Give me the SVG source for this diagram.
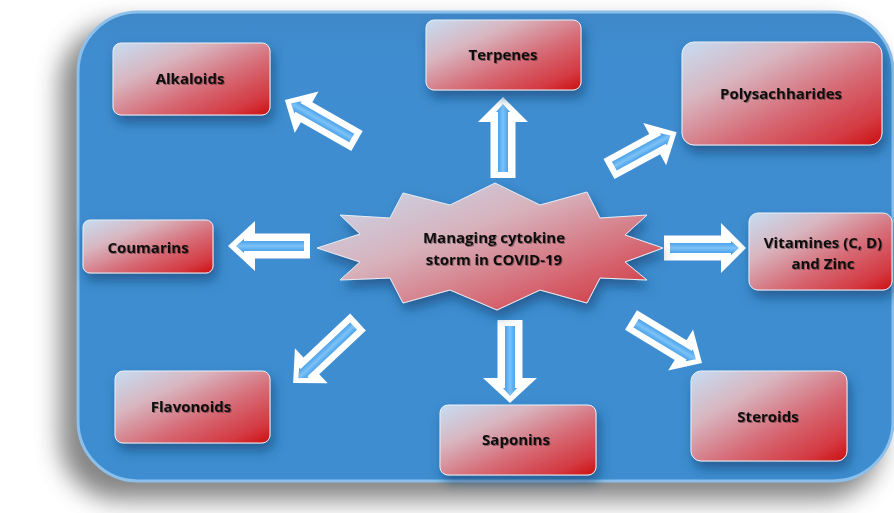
<svg xmlns="http://www.w3.org/2000/svg" width="894" height="513" viewBox="0 0 894 513">
<defs>
<linearGradient id="boxGrad" x1="0" y1="0" x2="1" y2="1">
<stop offset="0" stop-color="#c6ddf3"/>
<stop offset="0.3" stop-color="#d8b6c0"/>
<stop offset="0.6" stop-color="#d66b76"/>
<stop offset="0.85" stop-color="#d43a42"/>
<stop offset="1" stop-color="#cc1010"/>
</linearGradient>
<linearGradient id="starGrad" x1="0" y1="0" x2="1" y2="1">
<stop offset="0" stop-color="#c6dcf2"/>
<stop offset="0.4" stop-color="#d7b2bc"/>
<stop offset="0.75" stop-color="#d5606b"/>
<stop offset="1" stop-color="#cc2a30"/>
</linearGradient>
<linearGradient id="arrGrad" x1="0" y1="0" x2="0" y2="1">
<stop offset="0" stop-color="#3a96e6"/>
<stop offset="0.5" stop-color="#7cc2f6"/>
<stop offset="1" stop-color="#3a96e6"/>
</linearGradient>
<linearGradient id="panelGrad" x1="0" y1="0" x2="0" y2="1">
<stop offset="0" stop-color="#3f88c8"/>
<stop offset="0.1" stop-color="#3f8dd0"/>
<stop offset="1" stop-color="#3d8dd0"/>
</linearGradient>
<filter id="panelShadow" x="-10%" y="-10%" width="120%" height="125%">
<feGaussianBlur stdDeviation="12"/>
</filter>
<filter id="boxShadow" x="-20%" y="-30%" width="140%" height="170%">
<feDropShadow dx="3" dy="7" stdDeviation="6" flood-color="#123a6a" flood-opacity="0.6"/>
</filter>
<filter id="txtShadow" x="-5%" y="-20%" width="110%" height="150%">
<feDropShadow dx="1" dy="1" stdDeviation="0.6" flood-color="#000" flood-opacity="0.35"/>
</filter>
<style>
.box{fill:url(#boxGrad);stroke:#e8eef6;stroke-width:1;filter:url(#boxShadow);}
.lbl{font-family:"Open Sans","Liberation Sans",sans-serif;font-weight:700;font-size:15px;fill:#111;text-anchor:middle;filter:url(#txtShadow);}
.arrOut{fill:#ffffff;}
.arrIn{fill:url(#arrGrad);}
</style>
</defs>
<rect width="894" height="513" fill="#ffffff"/>
<!-- panel shadow -->
<rect x="60" y="24" width="822" height="476" rx="60" fill="#666666" opacity="0.8" filter="url(#panelShadow)"/>
<!-- panel -->
<rect x="78" y="12" width="815" height="469" rx="60" fill="url(#panelGrad)" stroke="#8cc0ea" stroke-width="3"/>

<g id="connectors">
<!-- up to Terpenes -->
<g transform="translate(503,178) rotate(-90)">
<polygon class="arrOut" points="0,-12.5 56,-12.5 56,-25 81,0 56,25 56,12.5 0,12.5"/>
<polygon class="arrIn" points="6,-5 66,-5 66,-7 74,0 66,7 66,5 6,5"/>
</g>
<!-- down to Saponins -->
<g transform="translate(510,320) rotate(90)">
<polygon class="arrOut" points="0,-12.5 58,-12.5 58,-27 83,0 58,27 58,12.5 0,12.5"/>
<polygon class="arrIn" points="6,-5 68,-5 68,-7 76,0 68,7 68,5 6,5"/>
</g>
<!-- left to Coumarins -->
<g transform="translate(310,246) rotate(180)">
<polygon class="arrOut" points="0,-12.5 55,-12.5 55,-25 82,0 55,25 55,12.5 0,12.5"/>
<polygon class="arrIn" points="6,-5 66,-5 66,-7 74,0 66,7 66,5 6,5"/>
</g>
<!-- right to Vitamines -->
<g transform="translate(664,248)">
<polygon class="arrOut" points="0,-12.5 57,-12.5 57,-25 82,0 57,25 57,12.5 0,12.5"/>
<polygon class="arrIn" points="6,-5 67,-5 67,-7 75,0 67,7 67,5 6,5"/>
</g>
<!-- up-left to Alkaloids -->
<g transform="translate(357,141) rotate(-150.3)">
<polygon class="arrOut" points="0,-11.5 58,-11.5 58,-24 83,0 58,24 58,11.5 0,11.5"/>
<polygon class="arrIn" points="6,-5 68,-5 68,-7 76,0 68,7 68,5 6,5"/>
</g>
<!-- up-right to Polysachharides -->
<g transform="translate(609,169) rotate(-28.5)">
<polygon class="arrOut" points="0,-11.5 52,-11.5 52,-24 77,0 52,24 52,11.5 0,11.5"/>
<polygon class="arrIn" points="6,-5 62,-5 62,-7 70,0 62,7 62,5 6,5"/>
</g>
<!-- down-left to Flavonoids -->
<g transform="translate(358,322) rotate(136.8)">
<polygon class="arrOut" points="0,-11.5 64,-11.5 64,-24 89,0 64,24 64,11.5 0,11.5"/>
<polygon class="arrIn" points="6,-5 74,-5 74,-7 82,0 74,7 74,5 6,5"/>
</g>
<!-- down-right to Steroids -->
<g transform="translate(631,320) rotate(31.2)">
<polygon class="arrOut" points="0,-11.5 58,-11.5 58,-24 83,0 58,24 58,11.5 0,11.5"/>
<polygon class="arrIn" points="6,-5 68,-5 68,-7 76,0 68,7 68,5 6,5"/>
</g>
</g>

<g id="center">
<polygon points="663,248 625,262 647,280 600,278 587,303 540,290 497,310 450,290 403,303 390,278 340,280 360,262 317,248 360,234 340,215 390,218 403,193 450,205 495,183 540,205 587,192 600,218 647,215 625,235" fill="url(#starGrad)" stroke="#e6edf5" stroke-width="1" filter="url(#boxShadow)"/>
<text class="lbl" x="494" y="243">Managing cytokine</text>
<text class="lbl" x="494" y="265">storm in COVID-19</text>
</g>

<g id="alkaloids">
<rect class="box" x="113" y="43" width="157" height="72" rx="8"/>
<text class="lbl" x="190" y="84">Alkaloids</text>
</g>
<g id="terpenes">
<rect class="box" x="426" y="20" width="155" height="70" rx="8"/>
<text class="lbl" x="503" y="60">Terpenes</text>
</g>
<g id="polysachharides">
<rect class="box" x="682" y="42" width="200" height="103" rx="12"/>
<text class="lbl" x="781" y="99">Polysachharides</text>
</g>
<g id="coumarins">
<rect class="box" x="83" y="220" width="130" height="53" rx="7"/>
<text class="lbl" x="148" y="253">Coumarins</text>
</g>
<g id="vitamines">
<rect class="box" x="749" y="213" width="143" height="77" rx="9"/>
<text class="lbl" x="823" y="248">Vitamines (C, D)</text>
<text class="lbl" x="823" y="269">and Zinc</text>
</g>
<g id="flavonoids">
<rect class="box" x="115" y="371" width="155" height="72" rx="8"/>
<text class="lbl" x="191" y="412">Flavonoids</text>
</g>
<g id="saponins">
<rect class="box" x="440" y="405" width="156" height="70" rx="8"/>
<text class="lbl" x="516" y="445">Saponins</text>
</g>
<g id="steroids">
<rect class="box" x="691" y="371" width="156" height="90" rx="10"/>
<text class="lbl" x="768" y="422">Steroids</text>
</g>
</svg>
